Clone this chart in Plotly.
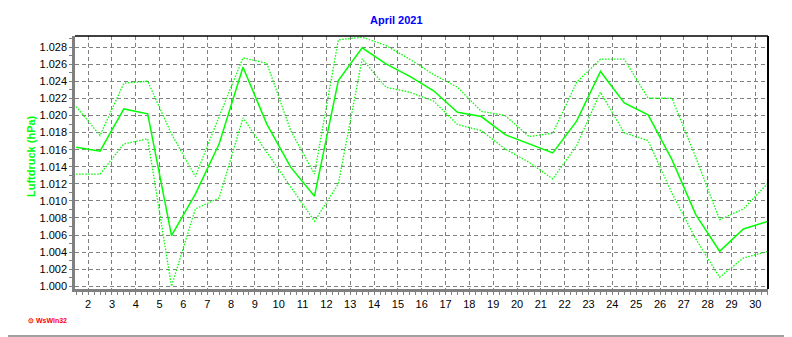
import plotly.graph_objects as go
import pandas as pd

# ---- data ----
days = pd.date_range("2021-04-01 12:00", periods=30, freq="D")  # daily values at noon
p_mean = [1.01629, 1.01582, 1.02078, 1.02020, 1.00594, 1.01080, 1.01670, 1.02566, 1.01900, 1.01395,
          1.01055, 1.02410, 1.02793, 1.02605, 1.02460, 1.02290, 1.02039, 1.01988, 1.01777, 1.01668,
          1.01563, 1.01934, 1.02516, 1.02148, 1.02008, 1.01484, 1.00840, 1.00410, 1.00672, 1.00758]
p_max = [1.02105, 1.01766, 1.02379, 1.02402, 1.01785, 1.01285, 1.01990, 1.02676, 1.02613, 1.01824,
         1.01316, 1.02887, 1.02918, 1.02820, 1.02660, 1.02480, 1.02332, 1.02050, 1.02000, 1.01754,
         1.01793, 1.02390, 1.02660, 1.02660, 1.02203, 1.02203, 1.01510, 1.00781, 1.00906, 1.01199]
p_min = [1.01313, 1.01313, 1.01668, 1.01727, 1.00000, 1.00906, 1.01035, 1.01973, 1.01570, 1.01170,
         1.00762, 1.01199, 1.02664, 1.02332, 1.02273, 1.02170, 1.01895, 1.01824, 1.01609, 1.01453,
         1.01258, 1.01648, 1.02273, 1.01797, 1.01707, 1.01090, 1.00555, 1.00105, 1.00332, 1.00406]

title_text = "April 2021"
y_title = "Luftdruck (hPa)"
GREEN = "#00FF00"
FONT = "Liberation Sans, Arial, sans-serif"

# page has an 8px body margin; figure is placed at (8, 8)
O = 8
W, H = 792 - O, 337 - O
L, R, T, B = 75 - O, 792 - 768, 36 - O, 337 - 289
pw, ph = W - L - R, H - T - B

def px(x):  # page pixel -> paper coordinate
    return (x - O - L) / pw

def py(y):
    return (H - B - (y - O)) / ph

fig = go.Figure()
fig.add_trace(go.Scatter(x=days, y=p_max, mode="lines",
                         line=dict(color=GREEN, width=1.3, dash="1.5px,1.5px"), showlegend=False))
fig.add_trace(go.Scatter(x=days, y=p_min, mode="lines",
                         line=dict(color=GREEN, width=1.3, dash="1.5px,1.5px"), showlegend=False))
fig.add_trace(go.Scatter(x=days, y=p_mean, mode="lines",
                         line=dict(color=GREEN, width=1.5), showlegend=False))

fig.update_layout(
    width=W, height=H,
    margin=dict(l=L, r=R, t=T, b=B),
    paper_bgcolor="white", plot_bgcolor="white",
    font=dict(family=FONT, size=11, color="black"),
    xaxis=dict(
        type="date",
        range=["2021-04-01 10:48", "2021-04-30 12:45"],
        tick0="2021-04-01", dtick=86400000, tickformat="%-d",
        showgrid=True, gridcolor="#808080", gridwidth=1, griddash="4px,3px",
        showline=True, linecolor="#808080", linewidth=2.5,
        ticks="outside", ticklen=3, tickcolor="#808080", tickwidth=1,
        minor=dict(ticks="outside", ticklen=3, dtick=21600000, tickcolor="#808080", showgrid=False),
        zeroline=False, tickfont=dict(size=11, color="black"),
    ),
    yaxis=dict(
        range=[0.99968, 1.02932],
        tick0=1.0, dtick=0.002, tickformat=".3f",
        showgrid=True, gridcolor="#808080", gridwidth=1, griddash="4px,3px",
        showline=True, linecolor="#808080", linewidth=2.5,
        ticks="outside", ticklen=3, tickcolor="#808080", tickwidth=1,
        minor=dict(ticks="outside", ticklen=3, dtick=0.001, tickcolor="#808080", showgrid=False),
        zeroline=False, tickfont=dict(size=11, color="black"),
    ),
    shapes=[
        dict(type="line", xref="paper", yref="paper", x0=0, x1=1, y0=1, y1=1,
             line=dict(color="black", width=1.5)),
        dict(type="line", xref="paper", yref="paper", x0=1, x1=1, y0=0, y1=1,
             line=dict(color="black", width=2)),
        dict(type="line", xref="paper", yref="paper", x0=px(787), x1=px(787), y0=py(0), y1=py(336),
             line=dict(color="#a0a0a0", width=2)),
        dict(type="line", xref="paper", yref="paper", x0=px(0), x1=px(787), y0=py(336), y1=py(336),
             line=dict(color="#a0a0a0", width=2)),
    ],
    annotations=[
        dict(text="<b>" + title_text + "</b>", xref="paper", yref="paper",
             x=px(396), y=py(20), xanchor="center", yanchor="middle", showarrow=False,
             font=dict(family=FONT, size=11, color="#0000FF")),
        dict(text="<b>" + y_title + "</b>", xref="paper", yref="paper",
             x=px(31), y=py(156), xanchor="center", yanchor="middle", showarrow=False,
             textangle=-90, font=dict(family=FONT, size=11, color=GREEN)),
        dict(text="<b>⊙ WsWin32</b>", xref="paper", yref="paper",
             x=px(26), y=py(320), xanchor="left", yanchor="middle", showarrow=False,
             font=dict(family=FONT, size=7, color="#FF0000")),
    ],
)

fig.write_html("out.html")
